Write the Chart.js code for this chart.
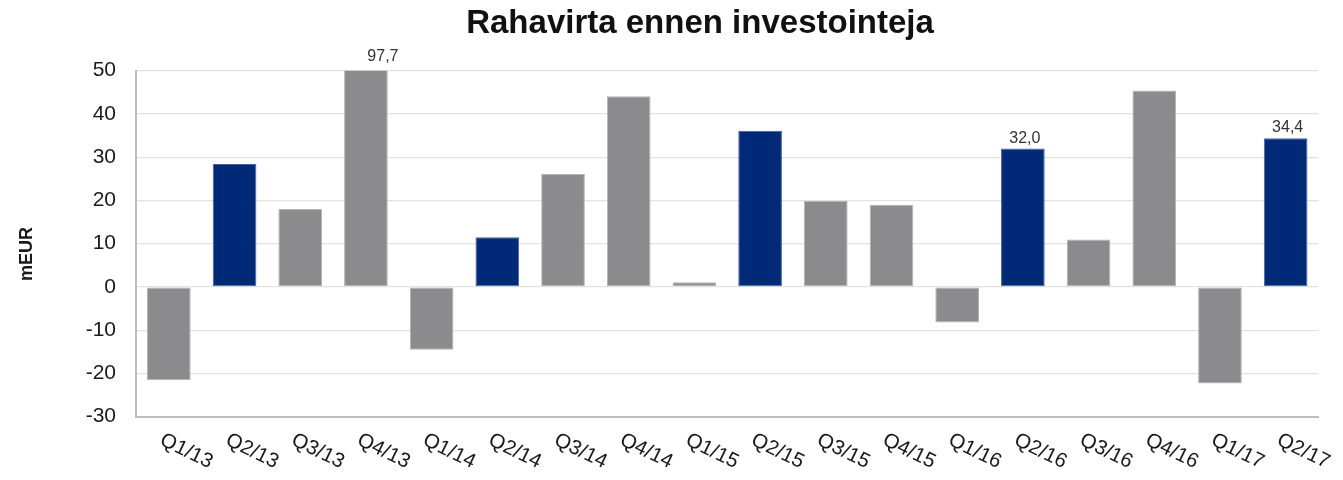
<!DOCTYPE html>
<html>
<head>
<meta charset="utf-8">
<script src="https://cdn.jsdelivr.net/npm/chart.js@4.4.1/dist/chart.umd.min.js"></script>
<style>
  html, body { margin: 0; padding: 0; background: #ffffff; }
  #wrap { width: 1343px; height: 480px; position: relative; }
</style>
</head>
<body>
<div id="wrap"><canvas id="c"></canvas></div>
<script>
// ---- data ----
const categories = ['Q1/13','Q2/13','Q3/13','Q4/13','Q1/14','Q2/14','Q3/14','Q4/14','Q1/15','Q2/15','Q3/15','Q4/15','Q1/16','Q2/16','Q3/16','Q4/16','Q1/17','Q2/17'];
const values = [-21.6, 28.4, 18.0, 97.7, -14.5, 11.5, 26.1, 44.1, 1.1, 36.1, 19.9, 19.0, -8.2, 32.0, 11.0, 45.4, -22.3, 34.4];
const valueLabels = [null, null, null, '97,7', null, null, null, null, null, null, null, null, null, '32,0', null, null, null, '34,4'];
const yTicks = [-30, -20, -10, 0, 10, 20, 30, 40, 50];
const chartTitle = 'Rahavirta ennen investointeja';
const yAxisTitle = 'mEUR';

const BLUE = '#002A78';
const GREY = '#8B8B8D';
const FONT = '"Liberation Sans", Arial, Helvetica, sans-serif';

const barColors = categories.map(c => c.startsWith('Q2') ? BLUE : GREY);
const barBorders = categories.map(c => c.startsWith('Q2') ? '#4a64a0' : '#b4b4b4');

const overlay = {
  id: 'overlay',
  afterDatasetsDraw(chart) {
    const ctx = chart.ctx;
    const area = chart.chartArea;
    const meta = chart.getDatasetMeta(0);
    const yScale = chart.scales.y;
    ctx.save();
    ctx.font = '16px ' + FONT;
    ctx.fillStyle = '#333333';
    ctx.textAlign = 'center';
    ctx.textBaseline = 'alphabetic';
    meta.data.forEach((bar, i) => {
      if (!valueLabels[i]) return;
      const clipped = values[i] > yScale.max;
      const y = clipped ? area.top - 10 : bar.y - 6;
      const x = clipped ? bar.x + 17 : bar.x + 2;
      ctx.fillText(valueLabels[i], x, y);
    });
    ctx.restore();
  },
  afterDraw(chart) {
    const ctx = chart.ctx;
    const area = chart.chartArea;
    const xScale = chart.scales.x;
    ctx.save();
    ctx.font = '20.5px ' + FONT;
    ctx.fillStyle = '#1a1a1a';
    ctx.textAlign = 'left';
    ctx.textBaseline = 'top';
    categories.forEach((c, i) => {
      const x = xScale.getPixelForValue(i);
      ctx.save();
      ctx.translate(x - 3, area.bottom + 13);
      ctx.rotate(26 * Math.PI / 180);
      ctx.fillText(c, 0, 0);
      ctx.restore();
    });
    ctx.restore();
    ctx.save();
    ctx.font = 'bold 33px ' + FONT;
    ctx.fillStyle = '#111111';
    ctx.textAlign = 'center';
    ctx.textBaseline = 'alphabetic';
    ctx.fillText(chartTitle, 700, 33);
    ctx.restore();
    ctx.save();
    ctx.font = 'bold 18px ' + FONT;
    ctx.fillStyle = '#1a1a1a';
    ctx.textAlign = 'center';
    ctx.textBaseline = 'middle';
    ctx.translate(27, 254);
    ctx.rotate(-Math.PI / 2);
    ctx.fillText(yAxisTitle, 0, 0);
    ctx.restore();
  }
};

new Chart(document.getElementById('c'), {
  type: 'bar',
  data: {
    labels: categories,
    datasets: [{
      data: values,
      backgroundColor: barColors,
      borderColor: barBorders,
      borderWidth: 1,
      borderSkipped: false,
      categoryPercentage: 1.0,
      barPercentage: 0.665
    }]
  },
  options: {
    responsive: true,
    maintainAspectRatio: false,
    animation: false,
    devicePixelRatio: 1,
    layout: { padding: { top: 70.7, right: 24.5, bottom: 0, left: 0 } },
    plugins: {
      legend: { display: false },
      title: { display: false },
      tooltip: { enabled: false }
    },
    scales: {
      x: {
        ticks: { display: false },
        grid: { display: false, drawTicks: false },
        border: { display: true, color: '#bdbdbd', width: 2 },
        afterFit(scale) { scale.height = 63.3; }
      },
      y: {
        min: yTicks[0],
        max: yTicks[yTicks.length - 1],
        afterBuildTicks(scale) { scale.ticks = yTicks.map(v => ({ value: v })); },
        ticks: {
          font: { family: FONT, size: 21 },
          color: '#1a1a1a',
          padding: 20
        },
        grid: { color: '#e3e3de', lineWidth: 1.3, drawTicks: false },
        border: { display: true, color: '#bdbdbd', width: 2 },
        afterFit(scale) { scale.width = 136; }
      }
    }
  },
  plugins: [overlay]
});
</script>
</body>
</html>
